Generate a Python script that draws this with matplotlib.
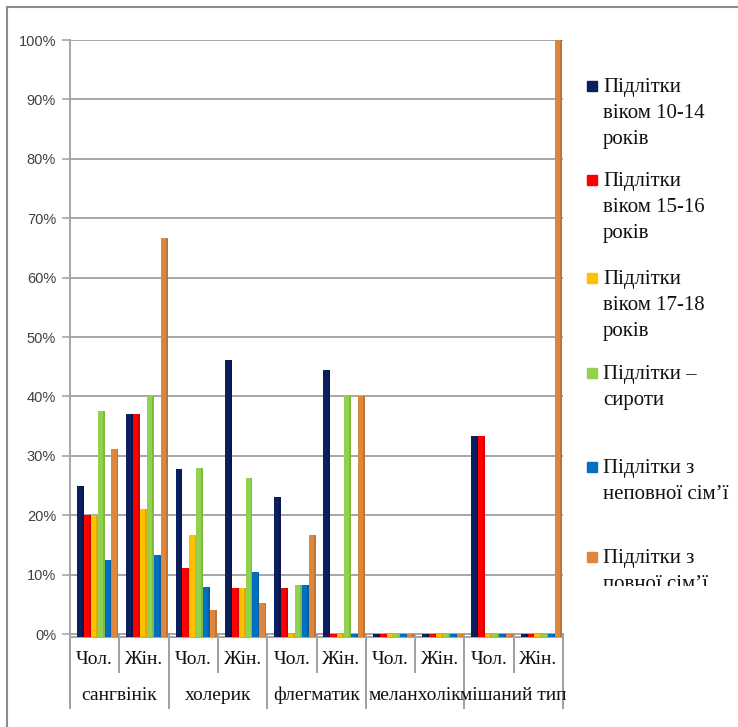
import numpy as np
import matplotlib
matplotlib.use('Agg')
import matplotlib.pyplot as plt
from matplotlib.patches import Rectangle
from matplotlib.lines import Line2D
from matplotlib.transforms import Bbox, TransformedBbox
from matplotlib.ticker import PercentFormatter

# --- data (percent) ---
temperaments = ['сангвінік', 'холерик', 'флегматик', 'меланхолік', 'мішаний тип']
genders = ['Чол.', 'Жін.']

series_labels = [
    'Підлітки\nвіком 10-14\nроків',
    'Підлітки\nвіком 15-16\nроків',
    'Підлітки\nвіком 17-18\nроків',
    'Підлітки –\nсироти',
    'Підлітки з\nнеповної сім’ї',
    'Підлітки з\nповної сім’ї',
]

# order: сангвінік Чол., Жін., холерик Чол., Жін., ...
age_10_14 = [25.0, 37.0, 27.8, 46.2, 23.0, 44.4, 0, 0, 33.3, 0]
age_15_16 = [20.0, 37.0, 11.1, 7.7, 7.7, 0, 0, 0, 33.3, 0]
age_17_18 = [20.0, 21.1, 16.7, 7.7, 0, 0, 0, 0, 0, 0]
orphans = [37.5, 40.0, 27.9, 26.3, 8.3, 40.0, 0, 0, 0, 0]
incomplete_family = [12.5, 13.3, 8.0, 10.5, 8.3, 0, 0, 0, 0, 0]
complete_family = [31.2, 66.7, 4.0, 5.3, 16.7, 40.0, 0, 0, 0, 100.0]

series = [age_10_14, age_15_16, age_17_18, orphans, incomplete_family, complete_family]
colors = ['#0B1F5E', '#FF0000', '#FFC000', '#92D050', '#0070C0', '#DD863E']
sides = ['#08174A', '#D80000', '#E0A800', '#7FB940', '#005FA6', '#C27232']

SERIF = ['Liberation Serif', 'DejaVu Serif']
SANS = ['Liberation Sans', 'DejaVu Sans']

W, H = 738, 727
fig = plt.figure(figsize=(W / 100, H / 100), dpi=100)

# axes placed in pixels: left 70, right 563, top 40, bottom 637
ax_l, ax_r, ax_t, ax_b = 70, 563, 40, 637
ax = fig.add_axes([ax_l / W, (H - ax_b) / H, (ax_r - ax_l) / W, (ax_b - ax_t) / H])

n = len(temperaments) * len(genders)
x = np.arange(n)
bw = 0.14
floor = -0.5
for k, (vals, c, sc) in enumerate(zip(series, colors, sides)):
    pos = x + 0.06 + (k - 2.5) * bw
    h = np.array(vals) - floor
    ax.bar(pos, h, bw, bottom=floor, color=c, edgecolor='none', zorder=3)
    # slightly darker right face for the 3D look
    ax.bar(pos + bw * 0.38, h, bw * 0.24, bottom=floor, color=sc,
           edgecolor='none', zorder=3)

ax.set_xlim(-0.5, n - 0.5)
ax.set_ylim(floor, 100)
ax.set_yticks(np.arange(0, 101, 10))
ax.yaxis.set_major_formatter(PercentFormatter(decimals=0))
ax.set_xticks([])
ax.grid(axis='y', color='#A6A6A6', linewidth=1.4, zorder=0)
for s in ['top', 'right']:
    ax.spines[s].set_visible(False)
ax.spines['left'].set_color('#A6A6A6')
ax.spines['left'].set_linewidth(1.4)
ax.spines['bottom'].set_color('#A6A6A6')
ax.spines['bottom'].set_linewidth(1.4)
ax.tick_params(axis='y', length=6, width=1.2, color='#A6A6A6', pad=4,
               labelsize=10.5, labelcolor='#404040')
for t in ax.get_yticklabels():
    t.set_family(SANS)

# two-level category axis
tr = ax.get_xaxis_transform()
def fy(p):
    return (ax_b - p) / (ax_b - ax_t)

for i in range(n):
    ax.text(i, fy(660), genders[i % 2], transform=tr, ha='center', va='center',
            fontsize=14, family=SERIF, color='#111111')
for c, name in enumerate(temperaments):
    ax.text(2 * c + 0.5, fy(695), name, transform=tr, ha='center', va='center',
            fontsize=14, family=SERIF, color='#111111')
for b in np.arange(-0.5, n, 1.0):
    long_line = int(round(b + 0.5)) % 2 == 0
    ax.add_line(Line2D([b, b], [fy(634), fy(708 if long_line else 672)],
                       transform=tr, color='#A0A0A0', linewidth=1.4, clip_on=False))

# legend drawn by hand
leg_y = [86, 180, 278, 373, 467, 557]
clip = TransformedBbox(Bbox([[0, (H - 586) / H], [1, 1]]), fig.transFigure)
for lab, c, yy in zip(series_labels, colors, leg_y):
    fig.patches.append(Rectangle((587 / W, (H - yy - 5) / H), 10 / W, 10 / H,
                                 transform=fig.transFigure, color=c))
    t = fig.text(603 / W, (H - yy + 8) / H, lab, ha='left', va='top',
                 fontsize=15, family=SERIF, linespacing=1.5,
                 color='#111111')
    t.set_clip_box(clip)
    t.set_clip_on(True)

# outer chart border (left and top edges visible)
fig.add_artist(Line2D([7 / W, 7 / W], [0, (H - 7) / H], transform=fig.transFigure,
                      color='#8C8C8C', linewidth=1.5))
fig.add_artist(Line2D([7 / W, 1], [(H - 7) / H, (H - 7) / H], transform=fig.transFigure,
                      color='#8C8C8C', linewidth=1.5))

fig.savefig('out.png', dpi=100)
